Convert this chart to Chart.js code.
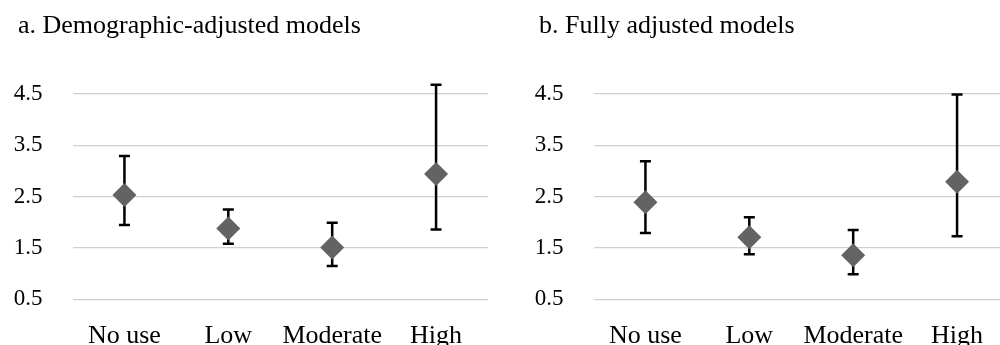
<!DOCTYPE html>
<html>
<head>
<meta charset="utf-8">
<script src="https://cdn.jsdelivr.net/npm/chart.js@4"></script>
<style>
  html, body { margin: 0; padding: 0; background: #fff; width: 1000px; height: 345px; overflow: hidden; }
  .wrap { position: absolute; top: 0; width: 488px; height: 345px; }
  #wa { left: 0; }
  #wb { left: 521px; }
</style>
</head>
<body>
<div class="wrap" id="wa"><canvas id="ca" width="488" height="345"></canvas></div>
<div class="wrap" id="wb"><canvas id="cb" width="488" height="345"></canvas></div>
<script>
const categories = ['No use', 'Low', 'Moderate', 'High'];
const yTicks = [0.5, 1.5, 2.5, 3.5, 4.5];

const titleA = 'a. Demographic-adjusted models';
const demoOR    = [2.53, 1.88, 1.51, 2.94];
const demoLower = [1.95, 1.58, 1.15, 1.86];
const demoUpper = [3.29, 2.25, 1.99, 4.68];

const titleB = 'b. Fully adjusted models';
const fullOR    = [2.39, 1.71, 1.36, 2.79];
const fullLower = [1.79, 1.38, 0.99, 1.73];
const fullUpper = [3.19, 2.10, 1.85, 4.49];

const FONT = "'Liberation Serif', 'Times New Roman', serif";

const errorBars = {
  id: 'errorBars',
  beforeDatasetsDraw(chart, args, opts) {
    const ctx = chart.ctx;
    const xs = chart.scales.x, ys = chart.scales.y;
    ctx.save();
    ctx.strokeStyle = '#000';
    ctx.lineWidth = 2.5;
    ctx.lineCap = 'butt';
    opts.lower.forEach((lo, i) => {
      const x = xs.getPixelForValue(i);
      const y1 = ys.getPixelForValue(opts.upper[i]);
      const y2 = ys.getPixelForValue(lo);
      ctx.beginPath();
      ctx.moveTo(x, y1); ctx.lineTo(x, y2);
      ctx.moveTo(x - 5.5, y1); ctx.lineTo(x + 5.5, y1);
      ctx.moveTo(x - 5.5, y2); ctx.lineTo(x + 5.5, y2);
      ctx.stroke();
    });
    ctx.restore();
  }
};

const titleShift = {
  id: 'titleShift',
  afterLayout(chart) {
    if (chart.titleBlock) { chart.titleBlock.left = 18; }
  }
};

function makeChart(id, title, values, lower, upper) {
  return new Chart(document.getElementById(id), {
    type: 'line',
    data: {
      labels: categories,
      datasets: [{
        data: values,
        showLine: false,
        pointStyle: 'rectRot',
        pointRadius: 12,
        pointHoverRadius: 12,
        pointBackgroundColor: '#636363',
        pointBorderWidth: 0,
        borderColor: '#636363',
        clip: false
      }]
    },
    options: {
      responsive: false,
      animation: false,
      devicePixelRatio: 1,
      events: [],
      layout: { autoPadding: false, padding: { top: 0, right: 0, bottom: 0, left: 0 } },
      plugins: {
        legend: { display: false },
        tooltip: { enabled: false },
        title: {
          display: true,
          text: title,
          align: 'start',
          color: '#000',
          font: { family: FONT, size: 26, weight: 'normal', lineHeight: 1.2 },
          padding: { top: 11, bottom: 51.8 }
        },
        errorBars: { lower: lower, upper: upper }
      },
      scales: {
        x: {
          type: 'category',
          offset: true,
          grid: { display: false, drawTicks: false },
          border: { display: false },
          ticks: { color: '#000', font: { family: FONT, size: 26 }, padding: 21, maxRotation: 0, autoSkip: false },
          afterFit(scale) {
            scale.height = 45.7;
            scale.paddingLeft = 0;
            scale.paddingRight = 0;
          }
        },
        y: {
          min: 0.5,
          max: 4.5,
          grid: { color: '#d0d0d0', lineWidth: 1.3, drawTicks: false },
          border: { display: false },
          afterBuildTicks(scale) { scale.ticks = yTicks.map(v => ({ value: v })); },
          ticks: {
            color: '#000',
            font: { family: FONT, size: 23 },
            padding: 30,
            callback: v => Number(v).toFixed(1)
          },
          afterFit(scale) { scale.width = 72.5; }
        }
      }
    },
    plugins: [errorBars, titleShift]
  });
}

makeChart('ca', titleA, demoOR, demoLower, demoUpper);
makeChart('cb', titleB, fullOR, fullLower, fullUpper);
</script>
</body>
</html>
